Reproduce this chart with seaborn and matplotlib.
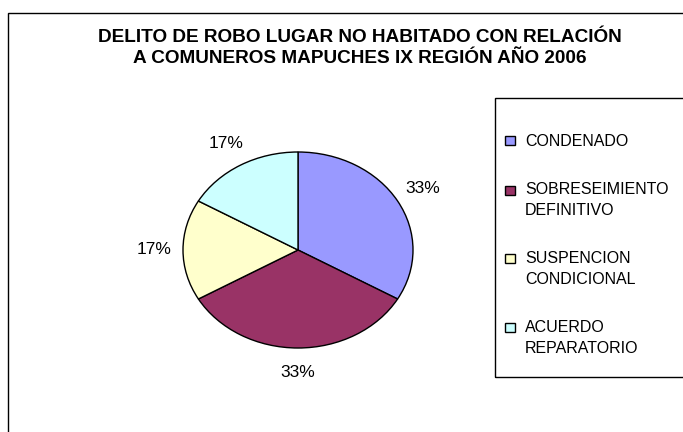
import matplotlib
matplotlib.use("Agg")
import matplotlib.pyplot as plt
import seaborn as sns
from matplotlib.patches import Rectangle, Patch
from matplotlib.legend_handler import HandlerPatch

categories = ["CONDENADO", "SOBRESEIMIENTO\nDEFINITIVO", "SUSPENCION\nCONDICIONAL", "ACUERDO\nREPARATORIO"]
values = [2, 2, 1, 1]
colors = ["#9999FF", "#993366", "#FFFFCC", "#CCFFFF"]
title = "DELITO DE ROBO LUGAR NO HABITADO CON RELACIÓN\nA COMUNEROS MAPUCHES IX REGIÓN AÑO 2006"

sns.set_theme(style="white")
plt.rcParams['font.family'] = ['Liberation Sans', 'DejaVu Sans']
plt.rcParams['text.color'] = 'black'

W, H = 683, 432
fig = plt.figure(figsize=(W / 100, H / 100), dpi=100)
fig.patch.set_facecolor("white")

# outer chart frame (extends past right/bottom edges)
fig.patches.append(Rectangle((8 / W, -0.1), 1.2, 1 - 13 / H + 0.1, transform=fig.transFigure,
                             fill=False, edgecolor="black", linewidth=1.0, clip_on=False))
# legend frame
fig.patches.append(Rectangle((495 / W, 1 - 377 / H), 0.5, (377 - 98) / H, transform=fig.transFigure,
                             fill=False, edgecolor="black", linewidth=1.0, clip_on=False))

fig.text(360 / W, 1 - 48 / H, title, ha="center", va="center", fontsize=13.7,
         fontweight="bold", linespacing=1.3, color="black")

# pie axes (elliptical pie)
ax = fig.add_axes([183 / W, 1 - 348 / H, (413 - 183) / W, (348 - 152) / H])
wedges, texts, autotexts = ax.pie(
    values, colors=colors, startangle=90, counterclock=False,
    autopct=lambda p: f"{p:.0f}%", pctdistance=1.25,
    wedgeprops=dict(edgecolor="black", linewidth=1.0),
    textprops=dict(fontsize=12.5, color="black"))
ax.set_aspect("auto")
ax.set_xlim(-1.0, 1.0)
ax.set_ylim(-1.0, 1.0)
ax.axis("off")

# legend
fs = 11.5
line_pts = 14.8


def make_handler(nlines):
    def patch_func(legend, orig_handle, xdescent, ydescent, width, height, fontsize):
        sqw, sqh = 7.2, 6.5
        shift = (nlines - 1) / 2 * line_pts
        return Rectangle((-xdescent, -ydescent + (height - sqh) / 2 + shift), sqw, sqh)
    return HandlerPatch(patch_func=patch_func)


handles = [Patch(facecolor=c, edgecolor="black", linewidth=1.0) for c in colors]
hmap = {h: make_handler(lab.count("\n") + 1) for h, lab in zip(handles, categories)}
leg = fig.legend(handles, categories, handler_map=hmap, loc="upper left",
                 bbox_to_anchor=(505 / W, 1 - 134 / H), frameon=False, fontsize=fs,
                 handlelength=0.63, handletextpad=0.63, labelspacing=2.06,
                 borderpad=0, borderaxespad=0)
for t in leg.get_texts():
    t.set_linespacing(1.5)
    t.set_color("black")

fig.savefig("out.png", dpi=100)
